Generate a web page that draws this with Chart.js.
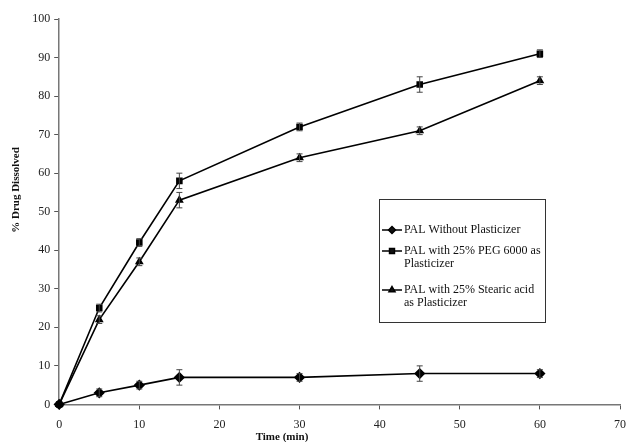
<!DOCTYPE html>
<html lang="en">
<head>
    <meta charset="UTF-8">
    <title>Drug Dissolved</title>
    <script src="https://cdn.jsdelivr.net/npm/chart.js"></script>
    <style>
        html, body { margin: 0; padding: 0; background: #fff; overflow: hidden; }
        #wrap { width: 634px; height: 442px; }
    </style>
</head>
<body>
    <div id="wrap"><canvas id="dissolution"></canvas></div>
    <script>
        // time points (min)
        const timeMin = [0, 5, 10, 15, 30, 45, 60];

        const seriesNames = [
            ["PAL Without Plasticizer"],
            ["PAL with 25% PEG 6000 as", "Plasticizer"],
            ["PAL with 25% Stearic acid", "as Plasticizer"]
        ];

        const noPlasticizer = [0, 3, 5, 7, 7, 8, 8];
        const pegPlasticizer = [0, 25, 42, 58, 72, 83, 91];
        const stearicPlasticizer = [0, 22, 37, 53, 64, 71, 84];

        // error bar half-widths
        const noPlasticizerErr = [0, 1, 1, 2, 1, 2, 1];
        const pegPlasticizerErr = [0, 1, 1, 2, 1, 2, 1];
        const stearicPlasticizerErr = [0, 1, 1, 2, 1, 1, 1];

        const xTicks = [0, 10, 20, 30, 40, 50, 60, 70];
        const yTicks = [0, 10, 20, 30, 40, 50, 60, 70, 80, 90, 100];

        const xTitle = "Time (min)";
        const yTitle = "% Drug Dissolved";

        const FONT = "'Liberation Serif', 'Times New Roman', serif";

        const makePoints = vals => vals.map((v, i) => ({ x: timeMin[i], y: v }));

        const errorBars = {
            id: "errorBars",
            afterDatasetsDraw(chart) {
                const ctx = chart.ctx;
                const xs = chart.scales.x, ys = chart.scales.y;
                ctx.save();
                ctx.strokeStyle = "#444";
                ctx.lineWidth = 1;
                chart.data.datasets.forEach(ds => {
                    ds.data.forEach((p, i) => {
                        const e = ds.errors[i];
                        if (!e) return;
                        const px = xs.getPixelForValue(p.x);
                        const top = ys.getPixelForValue(p.y + e);
                        const bot = ys.getPixelForValue(p.y - e);
                        ctx.beginPath();
                        ctx.moveTo(px, top); ctx.lineTo(px, bot);
                        ctx.moveTo(px - 3, top); ctx.lineTo(px + 3, top);
                        ctx.moveTo(px - 3, bot); ctx.lineTo(px + 3, bot);
                        ctx.stroke();
                    });
                });
                ctx.restore();
            }
        };

        // the original titles sit off-centre, so they are drawn here
        const axisTitles = {
            id: "axisTitles",
            afterDraw(chart) {
                const ctx = chart.ctx;
                ctx.save();
                ctx.fillStyle = "#111";
                ctx.font = "bold 11px " + FONT;
                ctx.textAlign = "center";
                ctx.textBaseline = "middle";
                ctx.fillText(xTitle, 282, 437);
                ctx.translate(16, 190);
                ctx.rotate(-Math.PI / 2);
                ctx.fillText(yTitle, 0, 0);
                ctx.restore();
            }
        };

        const boxLegend = {
            id: "boxLegend",
            afterDraw(chart) {
                const ctx = chart.ctx;
                const left = 379, top = 199, w = 166, h = 123;
                ctx.save();
                ctx.fillStyle = "#fff";
                ctx.fillRect(left, top, w, h);
                ctx.strokeStyle = "#333";
                ctx.lineWidth = 1;
                ctx.strokeRect(left + 0.5, top + 0.5, w, h);
                ctx.font = "12px " + FONT;
                ctx.textBaseline = "middle";
                ctx.fillStyle = "#111";
                const rows = [31, 52, 91];
                chart.data.datasets.forEach((ds, i) => {
                    const y = top + rows[i];
                    ctx.strokeStyle = "#000";
                    ctx.lineWidth = 1.5;
                    ctx.beginPath();
                    ctx.moveTo(left + 3, y); ctx.lineTo(left + 23, y);
                    ctx.stroke();
                    Chart.helpers.drawPoint(ctx, {
                        pointStyle: ds.pointStyle, radius: 3.5, borderWidth: 1
                    }, left + 13, y);
                    ctx.fillStyle = "#111";
                    seriesNames[i].forEach((line, j) => {
                        ctx.fillText(line, left + 25, y + j * 13);
                    });
                });
                ctx.restore();
            }
        };

        const baseDs = {
            borderColor: "#000",
            backgroundColor: "#000",
            pointBackgroundColor: "#000",
            pointBorderColor: "#000",
            borderWidth: 1.6,
            pointRadius: 4,
            tension: 0,
            clip: false
        };

        new Chart(document.getElementById("dissolution"), {
            type: "line",
            data: {
                datasets: [
                    Object.assign({}, baseDs, {
                        label: seriesNames[0].join(" "),
                        data: makePoints(noPlasticizer),
                        errors: noPlasticizerErr,
                        pointStyle: "rectRot",
                        pointRadius: 4.5
                    }),
                    Object.assign({}, baseDs, {
                        label: seriesNames[1].join(" "),
                        data: makePoints(pegPlasticizer),
                        errors: pegPlasticizerErr,
                        pointStyle: "rect",
                        pointRadius: 3.5
                    }),
                    Object.assign({}, baseDs, {
                        label: seriesNames[2].join(" "),
                        data: makePoints(stearicPlasticizer),
                        errors: stearicPlasticizerErr,
                        pointStyle: "triangle",
                        pointRadius: 3.5
                    })
                ]
            },
            options: {
                responsive: true,
                maintainAspectRatio: false,
                animation: false,
                layout: { padding: { top: 19, right: 0, left: 0, bottom: -3 } },
                plugins: {
                    legend: { display: false },
                    tooltip: { enabled: false }
                },
                scales: {
                    x: {
                        type: "linear",
                        min: 0,
                        max: 70,
                        afterBuildTicks: s => { s.ticks = xTicks.map(v => ({ value: v })); },
                        afterFit: s => { s.height -= 4; },
                        border: { color: "#777", width: 1.5 },
                        grid: { drawOnChartArea: false, tickLength: 5, color: "#555" },
                        ticks: { color: "#222", padding: 8, font: { family: FONT, size: 12 } },
                        // kept only to reserve room; the text is drawn by axisTitles
                        title: {
                            display: true,
                            text: xTitle,
                            color: "rgba(0,0,0,0)",
                            padding: { top: -4, bottom: 0 },
                            font: { family: FONT, size: 11, weight: "bold" }
                        }
                    },
                    y: {
                        min: 0,
                        max: 100,
                        afterBuildTicks: s => { s.ticks = yTicks.map(v => ({ value: v })); },
                        border: { color: "#777", width: 1.5 },
                        grid: { drawOnChartArea: false, tickLength: 5, color: "#555" },
                        ticks: { color: "#222", padding: 4, font: { family: FONT, size: 12 } },
                        title: {
                            display: true,
                            text: yTitle,
                            color: "rgba(0,0,0,0)",
                            padding: { top: 11, bottom: 4 },
                            font: { family: FONT, size: 11, weight: "bold" }
                        }
                    }
                }
            },
            plugins: [errorBars, boxLegend, axisTitles]
        });
    </script>
</body>
</html>
